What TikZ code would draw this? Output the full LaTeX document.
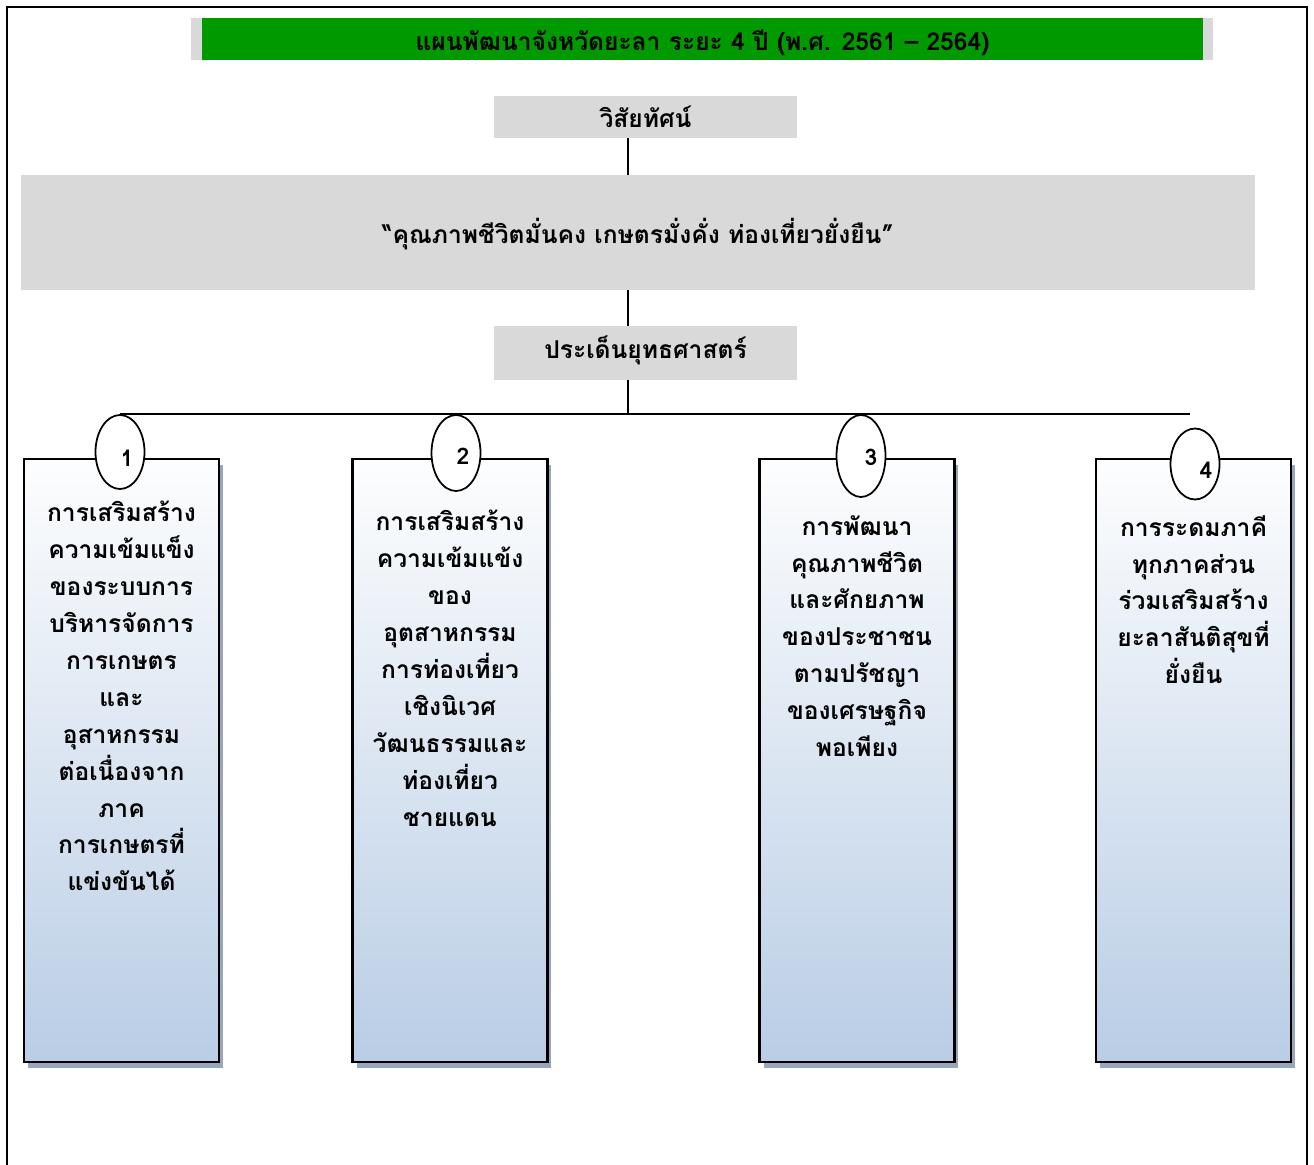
\documentclass[tikz,border=0pt]{standalone}
\usepackage{fontspec}
\newfontfamily\thaifont[Script=Thai]{Loma}
\usetikzlibrary{shapes.geometric,shadows}
\definecolor{titlegreen}{HTML}{009900}
\definecolor{boxgray}{HTML}{D9D9D9}
\definecolor{boxblue}{HTML}{B9CDE5}
\definecolor{shadowblue}{HTML}{97A6BA}
\newcommand{\movetxt}[2]{\raisebox{#1}[\height][\depth]{#2}}
\tikzset{graybox/.style={rectangle,fill=boxgray,inner sep=0pt,font=\thaifont\bfseries\fontsize{14}{17}\selectfont},
  strbox/.style={rectangle,draw=black,line width=1.4pt,top color=white!97!boxblue,bottom color=boxblue,minimum width=3.9cm,minimum height=12.06cm,drop shadow={shadow xshift=0.08cm,shadow yshift=-0.12cm,fill=shadowblue,opacity=1}},
  strtxt/.style={align=center,anchor=north,inner sep=0pt,font=\thaifont\bfseries\fontsize{14}{21}\selectfont},
  numell/.style={ellipse,draw,fill=white,line width=1pt,minimum width=0.98cm,inner sep=0pt},
  numtxt/.style={inner sep=0pt,font=\thaifont\bfseries\fontsize{13}{15}\selectfont},
  link/.style={line width=1.1pt}}

\begin{document}
\begin{tikzpicture}[x=0.02cm,y=-0.02cm]
    \useasboundingbox (0,0) rectangle (1314,1165);
    \draw[line width=1.1pt] (7,1165) -- (7,7) -- (1307,7) -- (1307,1165);

    % title, vision, strategy
    \node[graybox,minimum width=20.44cm,minimum height=0.84cm] (tbg) at (702,39) {};
    \node[graybox,fill=titlegreen,minimum width=20.02cm,minimum height=0.84cm] (title) at (702.5,39) {\movetxt{-0.07cm}{แผนพัฒนาจังหวัดยะลา ระยะ 4 ปี (พ.ศ. 2561 – 2564)}};
    \node[graybox,minimum width=6.06cm,minimum height=0.84cm] (vis) at (645.5,117) {วิสัยทัศน์};
    \node[graybox,minimum width=24.68cm,minimum height=2.3cm] (vtext) at (638,232.5) {\movetxt{-0.04cm}{“คุณภาพชีวิตมั่นคง เกษตรมั่งคั่ง ท่องเที่ยวยั่งยืน”}};
    \node[graybox,minimum width=6.06cm,minimum height=1.08cm] (strat) at (645.5,353) {\movetxt{0.05cm}{ประเด็นยุทธศาสตร์}};

    \coordinate (trunk) at (628,414);
    \coordinate (busR) at (1190,414);

    % four strategies
    \node[strbox] (b1) at (121.5,760.5) {};
    \node[strbox] (b2) at (450,760.5) {};
    \node[strbox] (b3) at (857,760.5) {};
    \node[strbox] (b4) at (1193.5,760.5) {};

    \node[strtxt] (t1) at (121.5,501) {การเสริมสร้าง\\ความเข้มแข็ง\\ของระบบการ\\บริหารจัดการ\\การเกษตร\\และ\\อุสาหกรรม\\ต่อเนื่องจาก\\ภาค\\การเกษตรที่\\แข่งขันได้};
    \node[strtxt] (t2) at (450,510) {การเสริมสร้าง\\ความเข้มแข้ง\\ของ\\อุตสาหกรรม\\การท่องเที่ยว\\เชิงนิเวศ\\วัฒนธรรมและ\\ท่องเที่ยว\\ชายแดน};
    \node[strtxt] (t3) at (857,515) {การพัฒนา\\คุณภาพชีวิต\\และศักยภาพ\\ของประชาชน\\ตามปรัชญา\\ของเศรษฐกิจ\\พอเพียง};
    \node[strtxt] (t4) at (1193.5,515) {การระดมภาคี\\ทุกภาคส่วน\\ร่วมเสริมสร้าง\\ยะลาสันติสุขที่\\ยั่งยืน};

    \draw[link] (vis.south -| trunk) -- (vtext.north -| trunk);
    \draw[link] (vtext.south -| trunk) -- (strat.north -| trunk);
    \draw[link] (strat.south -| trunk) -- (trunk);
    \draw[link] (120,414) -- (busR);

    \node[numell,minimum height=1.48cm,label={[numtxt,xshift=0.14cm,yshift=-0.12cm]center:1}] (n1) at (120,452) {};
    \node[numell,minimum height=1.52cm,label={[numtxt,xshift=0.14cm,yshift=-0.06cm]center:2}] (n2) at (456,453) {};
    \node[numell,minimum height=1.64cm,label={[numtxt,xshift=0.2cm,yshift=-0.02cm]center:3}] (n3) at (861,456) {};
    \node[numell,minimum height=1.42cm,label={[numtxt,xshift=0.22cm,yshift=-0.12cm]center:4}] (n4) at (1195,464) {};
\end{tikzpicture}
\end{document}
